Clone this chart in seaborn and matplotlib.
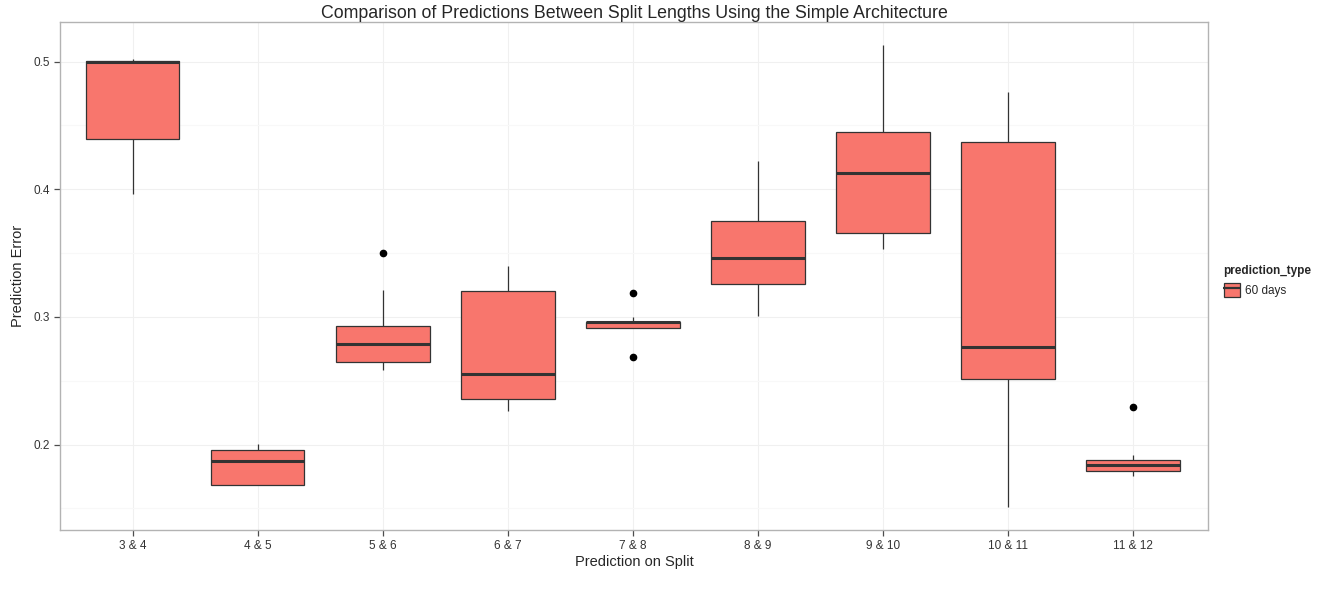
import pandas as pd
import seaborn as sns
import matplotlib.pyplot as plt
from matplotlib.patches import Patch
from matplotlib.lines import Line2D
from matplotlib.ticker import MultipleLocator

# values, 9 per split (sorted)
splits = ['3 & 4', '4 & 5', '5 & 6', '6 & 7', '7 & 8', '8 & 9', '9 & 10', '10 & 11', '11 & 12']
err_3_4 = [0.396, 0.42, 0.439, 0.47, 0.4995, 0.4998, 0.5005, 0.501, 0.502]
err_4_5 = [0.168, 0.168, 0.1682, 0.178, 0.1868, 0.19, 0.1957, 0.198, 0.2004]
err_5_6 = [0.258, 0.262, 0.265, 0.272, 0.279, 0.285, 0.293, 0.321, 0.350]
err_6_7 = [0.226, 0.230, 0.236, 0.245, 0.255, 0.29, 0.320, 0.33, 0.340]
err_7_8 = [0.2684, 0.2911, 0.2911, 0.294, 0.2958, 0.296, 0.2963, 0.3002, 0.3185]
err_8_9 = [0.301, 0.315, 0.326, 0.335, 0.346, 0.36, 0.375, 0.40, 0.422]
err_9_10 = [0.353, 0.36, 0.366, 0.39, 0.413, 0.43, 0.445, 0.48, 0.513]
err_10_11 = [0.151, 0.20, 0.251, 0.26, 0.276, 0.35, 0.437, 0.46, 0.476]
err_11_12 = [0.1753, 0.178, 0.1792, 0.181, 0.1837, 0.186, 0.1878, 0.1918, 0.2296]
all_errs = [err_3_4, err_4_5, err_5_6, err_6_7, err_7_8, err_8_9, err_9_10, err_10_11, err_11_12]

rows = []
for s, vals in zip(splits, all_errs):
    for v in vals:
        rows.append({'split': s, 'error': v, 'prediction_type': '60 days'})
df = pd.DataFrame(rows)

sns.set_style('white')
plt.rcParams['font.family'] = ['Liberation Sans', 'DejaVu Sans']

fig = plt.figure(figsize=(13.3, 5.92), dpi=100)
ax = fig.add_axes([0.0451, 0.1047, 0.8632, 0.8581])

fill = '#F8766D'
edge = '#333333'
sns.boxplot(data=df, x='split', y='error', hue='prediction_type', order=splits,
            palette={'60 days': fill}, dodge=False, width=0.75, saturation=1,
            linecolor=edge, linewidth=0.9, legend=False, ax=ax, showcaps=False,
            medianprops=dict(color=edge, linewidth=2.2),
            flierprops=dict(marker='o', markerfacecolor='black', markeredgecolor='black',
                            markersize=4.5),
            zorder=3)

ax.set_xlim(-0.58, 8.6)
ax.set_ylim(0.133, 0.531)
ax.yaxis.set_major_locator(MultipleLocator(0.1))
ax.yaxis.set_minor_locator(MultipleLocator(0.05))
ax.grid(True, which='major', color='#F0F0F0', linewidth=0.8, zorder=0)
ax.grid(True, which='minor', axis='y', color='#F8F8F8', linewidth=0.8, zorder=0)
ax.set_axisbelow(True)
for sp in ax.spines.values():
    sp.set_color('#B3B3B3')
    sp.set_linewidth(1)

ax.tick_params(axis='both', which='major', direction='out', length=4, width=0.9,
               color='#4D4D4D', labelsize=8.5, labelcolor='#333333', bottom=True, left=True)
ax.tick_params(axis='y', which='minor', length=0)

ax.set_title('Comparison of Predictions Between Split Lengths Using the Simple Architecture',
             fontsize=12.8, pad=3)
ax.set_xlabel('Prediction on Split', fontsize=10.5, labelpad=2)
ax.set_ylabel('Prediction Error', fontsize=10.5, labelpad=6)

# legend key: box with a median line through the middle
handle = (Patch(facecolor=fill, edgecolor=edge, linewidth=0.9),
          Line2D([0], [0], color=edge, linewidth=1.6, marker='_', markersize=13,
                 markeredgewidth=1.6, linestyle='none'))
leg = fig.legend([handle], ['60 days'], title='prediction_type',
                 loc='upper left', bbox_to_anchor=(0.912, 0.57), frameon=False,
                 fontsize=8.5, title_fontsize=8.5, handlelength=1.4, handleheight=1.4,
                 handletextpad=0.4, alignment='left')
leg.get_title().set_fontweight('bold')

fig.savefig('out.png', dpi=100)
